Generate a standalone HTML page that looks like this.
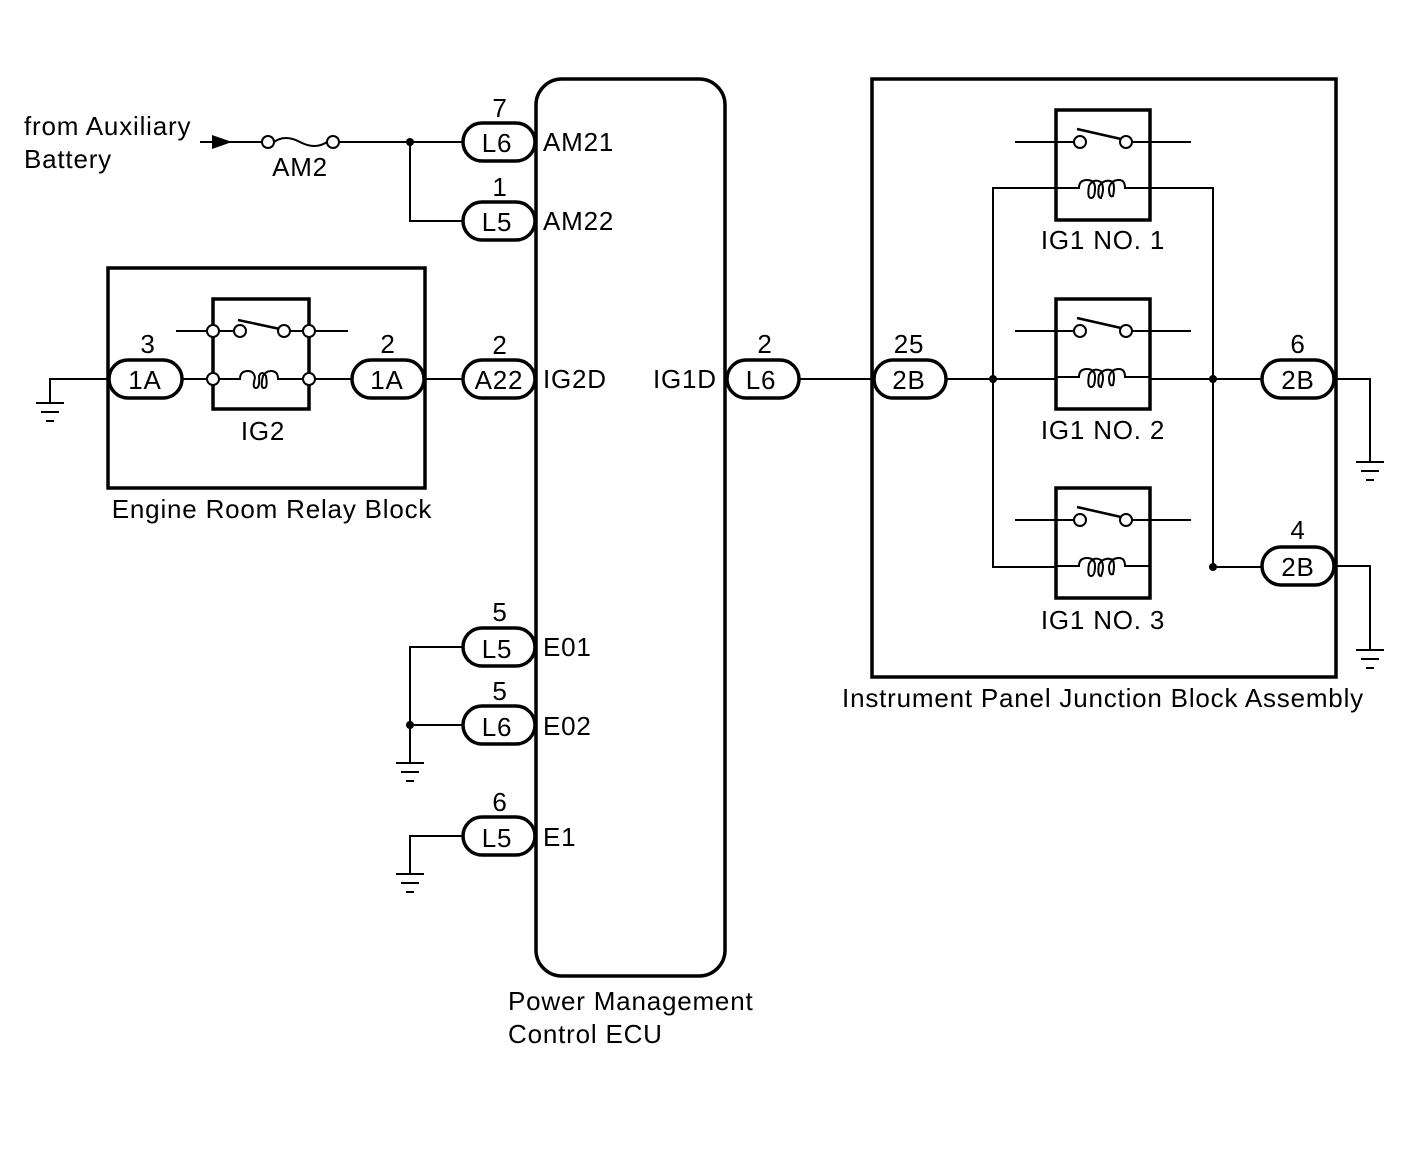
<!DOCTYPE html>
<html><head><meta charset="utf-8"><style>
html,body{margin:0;padding:0;background:#fff;}
svg{display:block;}
text{font-family:"Liberation Sans",Arial,sans-serif;font-size:26px;letter-spacing:0.8px;fill:#000;}
</style></head><body>
<svg width="1424" height="1160" viewBox="0 0 1424 1160" xmlns="http://www.w3.org/2000/svg">
<defs>
<g id="gnd" stroke="#000" stroke-width="2" fill="none">
<line x1="-14" y1="0" x2="14" y2="0"/><line x1="-9" y1="9" x2="9" y2="9"/><line x1="-4" y1="18" x2="4" y2="18"/>
</g>
<g id="relay" stroke="#000" fill="none">
<rect x="-47" y="0" width="94" height="110" stroke-width="3.5" fill="#fff"/>
<line x1="-88" y1="32" x2="-29" y2="32" stroke-width="2"/>
<line x1="29" y1="32" x2="88" y2="32" stroke-width="2"/>
<circle cx="-23" cy="32" r="6" stroke-width="2" fill="#fff"/>
<circle cx="23" cy="32" r="6" stroke-width="2" fill="#fff"/>
<line x1="-26" y1="19" x2="18" y2="29" stroke-width="2.5"/>
<path d="M-47 78 L-24 78 Q-24 70 -16 70 Q-8 70 -8 78 Q-8 88 -12 88 Q-16 88 -14 76 Q-10 68 -2 72 Q2 78 -2 88 Q-6 88 -4 76 Q2 68 10 72 Q12 78 10 86 Q6 88 6 78 Q8 70 16 70 Q22 70 22 78 L47 78" stroke-width="2"/>
</g>
</defs>

<g stroke="#000" fill="none">
<rect x="536" y="79" width="189" height="897" rx="26" stroke-width="3.5"/>
<g stroke-width="2">
<line x1="200" y1="142" x2="262" y2="142"/>
<path d="M274 142 Q285 134 300 142 Q315 150 327 142"/>
<line x1="339" y1="142" x2="463" y2="142"/>
<polyline points="410,142 410,221 463,221"/>
<polyline points="108,379 50,379 50,403"/>
<line x1="182" y1="379" x2="207" y2="379"/>
<line x1="176" y1="331" x2="207" y2="331"/>
<line x1="315" y1="331" x2="348" y2="331"/>
<line x1="219" y1="331" x2="234" y2="331"/>
<line x1="290" y1="331" x2="303" y2="331"/>
<line x1="315" y1="379" x2="352" y2="379"/>
<line x1="424" y1="379" x2="463" y2="379"/>
<line x1="238" y1="320" x2="280" y2="329" stroke-width="2.5"/>
<path d="M219 379 L240 379 Q240 371 248 371 Q254 371 255 378 M255 378 Q252 388 256 388 Q260 388 259 376 Q262 370 266 376 Q268 388 264 388 Q260 388 263 376 Q266 371 271 371 Q278 371 278 379 L303 379"/>
<polyline points="463,647 410,647 410,763"/>
<line x1="410" y1="725" x2="463" y2="725"/>
<polyline points="463,836 410,836 410,874"/>
<line x1="799" y1="379" x2="874" y2="379"/>
<line x1="946" y1="379" x2="1262" y2="379"/>
<polyline points="1056,188 993,188 993,567 1056,567"/>
<polyline points="1150,188 1213,188 1213,567 1262,567"/>
<polyline points="1334,379 1370,379 1370,462"/>
<polyline points="1334,566 1370,566 1370,650"/>
</g>
<polygon points="212,135 232,142 212,149" fill="#000" stroke="none"/>
<circle cx="268" cy="142" r="6" stroke-width="2" fill="#fff"/>
<circle cx="333" cy="142" r="6" stroke-width="2" fill="#fff"/>
<rect x="108" y="268" width="317" height="220" stroke-width="3.5"/>
<rect x="213" y="299" width="96" height="110" stroke-width="3.5"/>
<g stroke-width="2" fill="#fff">
<circle cx="213" cy="331" r="6"/><circle cx="240" cy="331" r="6"/><circle cx="284" cy="331" r="6"/><circle cx="309" cy="331" r="6"/>
<circle cx="213" cy="379" r="6"/><circle cx="309" cy="379" r="6"/>
</g>
<rect x="872" y="79" width="464" height="598" stroke-width="3.5"/>
</g>
<use href="#relay" x="1103" y="110"/>
<use href="#relay" x="1103" y="299"/>
<use href="#relay" x="1103" y="488"/>
<use href="#gnd" x="50" y="403"/>
<use href="#gnd" x="410" y="763"/>
<use href="#gnd" x="410" y="874"/>
<use href="#gnd" x="1370" y="462"/>
<use href="#gnd" x="1370" y="650"/>
<g fill="#000">
<circle cx="410" cy="142" r="4"/><circle cx="410" cy="725" r="4"/>
<circle cx="993" cy="379" r="4"/><circle cx="1213" cy="379" r="4"/><circle cx="1213" cy="567" r="4"/>
</g>
<g stroke="#000" stroke-width="3.5" fill="#fff">
<rect x="463" y="123" width="72" height="38" rx="19"/>
<rect x="463" y="202" width="72" height="38" rx="19"/>
<rect x="463" y="360" width="72" height="38" rx="19"/>
<rect x="463" y="628" width="72" height="38" rx="19"/>
<rect x="463" y="706" width="72" height="38" rx="19"/>
<rect x="463" y="817" width="72" height="38" rx="19"/>
<rect x="109" y="360" width="73" height="38" rx="19"/>
<rect x="352" y="360" width="72" height="38" rx="19"/>
<rect x="727" y="360" width="72" height="38" rx="19"/>
<rect x="874" y="360" width="72" height="38" rx="19"/>
<rect x="1262" y="360" width="72" height="38" rx="19"/>
<rect x="1262" y="547" width="72" height="38" rx="19"/>
</g>
<g text-anchor="middle">
<text x="497" y="152">L6</text><text x="500" y="117">7</text>
<text x="497" y="231">L5</text><text x="500" y="196">1</text>
<text x="499" y="389">A22</text><text x="500" y="354">2</text>
<text x="497" y="658">L5</text><text x="500" y="621">5</text>
<text x="497" y="736">L6</text><text x="500" y="700">5</text>
<text x="497" y="847">L5</text><text x="500" y="811">6</text>
<text x="145" y="389">1A</text><text x="148" y="353">3</text>
<text x="387" y="389">1A</text><text x="388" y="353">2</text>
<text x="761" y="389">L6</text><text x="765" y="353">2</text>
<text x="909" y="389">2B</text><text x="909" y="353">25</text>
<text x="1298" y="389">2B</text><text x="1298" y="353">6</text>
<text x="1298" y="576">2B</text><text x="1298" y="539">4</text>
<text x="300" y="176">AM2</text>
<text x="263" y="440">IG2</text>
<text x="1103" y="249">IG1 NO. 1</text>
<text x="1103" y="439">IG1 NO. 2</text>
<text x="1103" y="629">IG1 NO. 3</text>
<text x="1103" y="707">Instrument Panel Junction Block Assembly</text>
<text x="272" y="518">Engine Room Relay Block</text>
</g>
<text x="543" y="151">AM21</text>
<text x="543" y="230">AM22</text>
<text x="543" y="388">IG2D</text>
<text x="543" y="656">E01</text>
<text x="543" y="735">E02</text>
<text x="543" y="846">E1</text>
<text x="653" y="388">IG1D</text>
<text x="24" y="135">from Auxiliary</text>
<text x="24" y="168">Battery</text>
<text x="508" y="1010">Power Management</text>
<text x="508" y="1043">Control ECU</text>
</svg>
</body></html>
